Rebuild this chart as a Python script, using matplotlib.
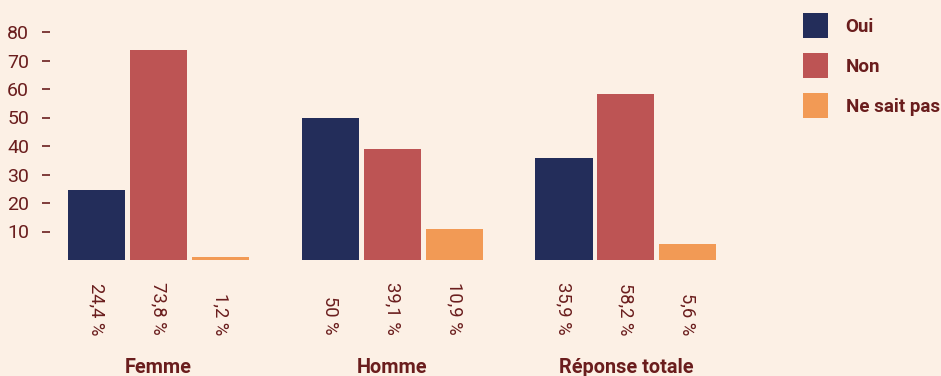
import matplotlib
matplotlib.use("Agg")
import matplotlib.pyplot as plt
import numpy as np
from matplotlib.patches import Patch

groups = ["Femme", "Homme", "Réponse totale"]
series = ["Oui", "Non", "Ne sait pas"]
oui = [24.4, 50, 35.9]
non = [73.8, 39.1, 58.2]
nsp = [1.2, 10.9, 5.6]
value_labels = [
    ["24,4 %", "50 %", "35,9 %"],
    ["73,8 %", "39,1 %", "58,2 %"],
    ["1,2 %", "10,9 %", "5,6 %"],
]
yticks = [10, 20, 30, 40, 50, 60, 70, 80]

colors = ["#232d5a", "#bd5454", "#f29a55"]
bg = "#fcf0e5"
text_color = "#6a1d1d"

plt.rcParams["font.family"] = ["Roboto", "DejaVu Sans"]

W, H = 941, 376
fig = plt.figure(figsize=(W / 100, H / 100), dpi=100, facecolor=bg)
# axes box in pixels: left edge, zero line, top (80)
left_px, right_px, zero_px, top_px = 50, 730, 260, 32
ax = fig.add_axes([left_px / W, 1 - zero_px / H,
                   (right_px - left_px) / W, (zero_px - top_px) / H])
ax.set_facecolor(bg)

group_pitch = 3.77
width = 0.92
for s, vals in enumerate([oui, non, nsp]):
    xs = np.arange(len(groups)) * group_pitch + s
    ax.bar(xs, vals, width=width, color=colors[s], clip_on=False)
    for g, x in enumerate(xs):
        ax.text(x, -26.3, value_labels[s][g], rotation=-90, ha="center", va="bottom",
                fontsize=13.2, color=text_color)

for g, name in enumerate(groups):
    ax.text(g * group_pitch + 1, -37.8, name, ha="center", va="center",
            fontsize=14.3, fontweight="bold", color=text_color)

ax.set_xlim(-0.75, (right_px - 96.5) / 62)
ax.set_ylim(0, 80)
ax.set_yticks(yticks)
ax.set_xticks([])
ax.tick_params(axis="y", length=6, width=1.2, color=text_color,
               labelcolor=text_color, labelsize=14, pad=9)
for sp in ax.spines.values():
    sp.set_visible(False)

handles = [Patch(facecolor=c, edgecolor="none") for c in colors]
leg = fig.legend(handles, series, loc="upper left",
                 bbox_to_anchor=(803 / W, 1 - 13 / H), frameon=False,
                 borderpad=0, borderaxespad=0, fontsize=13.5,
                 handlelength=1.33, handleheight=1.68,
                 labelspacing=0.8, handletextpad=0.95)
for t in leg.get_texts():
    t.set_color(text_color)
    t.set_fontweight("bold")

fig.savefig("out.png", dpi=100, facecolor=bg)
